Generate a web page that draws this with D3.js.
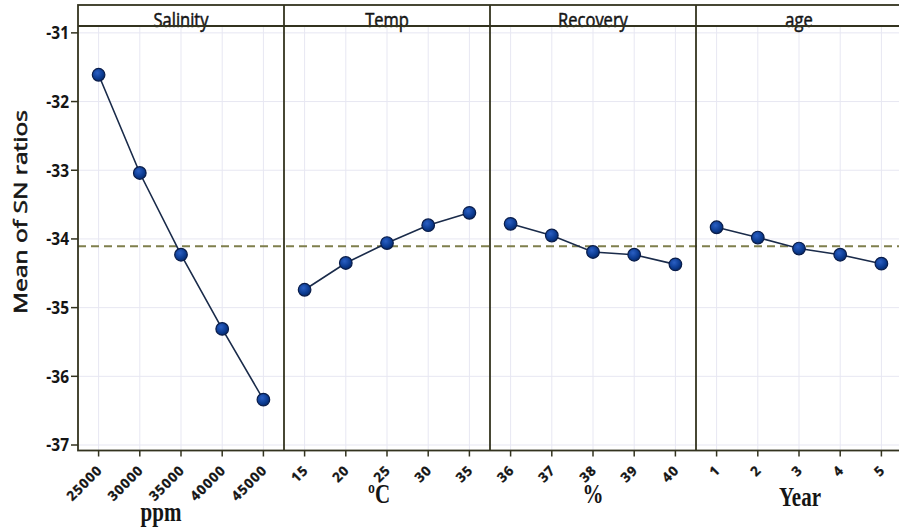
<!DOCTYPE html>
<html>
<head>
<meta charset="utf-8">
<script src="https://cdnjs.cloudflare.com/ajax/libs/d3/7.8.5/d3.min.js"></script>
<style>
  html, body { margin: 0; padding: 0; background: #fff; }
  svg { display: block; }
</style>
</head>
<body>
<svg id="chart" width="899" height="529"></svg>
<script>
// Main effects plot for SN ratios (panels share one y axis)
const factors = ["Salinity", "Temp", "Recovery", "age"];
const units = ["ppm", "ºC", "%", "Year"];

const salinityLevels = ["25000", "30000", "35000", "40000", "45000"];
const tempLevels = ["15", "20", "25", "30", "35"];
const recoveryLevels = ["36", "37", "38", "39", "40"];
const ageLevels = ["1", "2", "3", "4", "5"];

const salinitySN = [-31.61, -33.04, -34.23, -35.31, -36.34];
const tempSN = [-34.74, -34.35, -34.06, -33.80, -33.62];
const recoverySN = [-33.78, -33.95, -34.19, -34.23, -34.37];
const ageSN = [-33.83, -33.98, -34.14, -34.23, -34.36];

const yTicks = [-31, -32, -33, -34, -35, -36, -37];

const levels = [salinityLevels, tempLevels, recoveryLevels, ageLevels];
const values = [salinitySN, tempSN, recoverySN, ageSN];

// grand mean of the SN ratios (reference line)
const grandMean = d3.mean([].concat(...values));

const svg = d3.select("#chart");
const plotLeft = 78, plotRight = 902, stripTop = 5, plotTop = 26, plotBottom = 450.5;
const panelW = (plotRight - plotLeft) / factors.length;

const frameColor = "#33331f";
const gridColor = "#e7e7f2";
const textColor = "#151515";
const sans = "'Open Sans', 'Noto Sans', sans-serif";

const y = d3.scaleLinear().domain([-37.08, -30.90]).range([plotBottom, plotTop]);

const defs = svg.append("defs");
const grad = defs.append("radialGradient").attr("id", "dot")
  .attr("cx", "40%").attr("cy", "35%").attr("r", "65%");
grad.append("stop").attr("offset", "0%").attr("stop-color", "#2a5fc4");
grad.append("stop").attr("offset", "70%").attr("stop-color", "#0b3a8f");
grad.append("stop").attr("offset", "100%").attr("stop-color", "#072a6a");

// horizontal grid
svg.append("g").selectAll("line").data(yTicks).join("line")
  .attr("x1", plotLeft).attr("x2", plotRight)
  .attr("y1", d => y(d)).attr("y2", d => y(d))
  .attr("stroke", gridColor).attr("stroke-width", 1);

// y axis ticks + labels
const yAxis = svg.append("g");
yAxis.selectAll("line").data(yTicks).join("line")
  .attr("x1", plotLeft - 7).attr("x2", plotLeft)
  .attr("y1", d => y(d)).attr("y2", d => y(d))
  .attr("stroke", frameColor).attr("stroke-width", 1.5);
yAxis.selectAll("text").data(yTicks).join("text")
  .attr("transform", d => `translate(${plotLeft - 9},${y(d)}) scale(1,1.15)`)
  .attr("dy", "0.36em")
  .attr("text-anchor", "end")
  .attr("font-family", sans).attr("font-size", 15.5).attr("font-weight", 700)
  .attr("fill", textColor)
  .text(d => d);

svg.append("text")
  .attr("transform", `translate(27,212) rotate(-90) scale(1.33,1)`)
  .attr("text-anchor", "middle")
  .attr("font-family", sans).attr("font-size", 18.5)
  .attr("fill", textColor).attr("stroke", textColor).attr("stroke-width", 0.6)
  .text("Mean of SN ratios");

const panelX = i => {
  const x0 = plotLeft + i * panelW;
  return d3.scalePoint().domain(levels[i]).range([x0, x0 + panelW]).padding(0.5);
};

const unitOffsetX = [83, 95, 103, 104];
const unitY = [521, 503, 503, 506];

factors.forEach((f, i) => {
  const x0 = plotLeft + i * panelW, x1 = x0 + panelW;
  const x = panelX(i);
  const g = svg.append("g");

  // vertical grid
  g.selectAll("line.grid").data(levels[i]).join("line").attr("class", "grid")
    .attr("x1", d => x(d)).attr("x2", d => x(d))
    .attr("y1", plotTop).attr("y2", plotBottom)
    .attr("stroke", gridColor).attr("stroke-width", 1);

  // x ticks
  g.selectAll("line.tick").data(levels[i]).join("line").attr("class", "tick")
    .attr("x1", d => x(d)).attr("x2", d => x(d))
    .attr("y1", plotBottom).attr("y2", plotBottom + 6)
    .attr("stroke", frameColor).attr("stroke-width", 1.5);

  g.selectAll("text.tick").data(levels[i]).join("text").attr("class", "tick")
    .attr("transform", d => `translate(${x(d) + 4.5},${plotBottom + 20.5}) rotate(-45)`)
    .attr("text-anchor", "end")
    .attr("font-family", sans).attr("font-size", 13.5).attr("font-weight", 700)
    .attr("letter-spacing", 1)
    .attr("fill", textColor)
    .attr("stroke", textColor).attr("stroke-width", 0.3)
    .text(d => d);

  // strip title
  g.append("text")
    .attr("transform", `translate(${(x0 + x1) / 2},${plotTop + 1}) scale(1,1.2)`)
    .attr("text-anchor", "middle")
    .attr("font-family", sans).attr("font-size", 16.5)
    .attr("fill", textColor).attr("stroke", textColor).attr("stroke-width", 0.45)
    .text(f);

  // unit label
  g.append("text")
    .attr("transform", `translate(${x0 + unitOffsetX[i]},${unitY[i]}) scale(1,1.3)`)
    .attr("text-anchor", "middle")
    .attr("font-family", "'Liberation Serif', 'Times New Roman', serif")
    .attr("font-size", 21).attr("font-weight", 700)
    .attr("fill", textColor)
    .text(units[i]);
});

// grand mean reference line
svg.append("line")
  .attr("x1", plotLeft).attr("x2", plotRight)
  .attr("y1", y(grandMean)).attr("y2", y(grandMean))
  .attr("stroke", "#7f7f4c").attr("stroke-width", 2)
  .attr("stroke-dasharray", "8,5");

// lines and points
factors.forEach((f, i) => {
  const x = panelX(i);
  const pts = levels[i].map((l, k) => ({ level: l, value: values[i][k] }));
  const line = d3.line().x(d => x(d.level)).y(d => y(d.value));
  svg.append("path").datum(pts)
    .attr("d", line)
    .attr("fill", "none").attr("stroke", "#1a2b4a").attr("stroke-width", 1.6);
  svg.append("g").selectAll("circle").data(pts).join("circle")
    .attr("cx", d => x(d.level)).attr("cy", d => y(d.value))
    .attr("r", 6.3)
    .attr("fill", "url(#dot)")
    .attr("stroke", "#0a1d4a").attr("stroke-width", 1.2);
});

// panel frames and strips
const frame = svg.append("g").attr("fill", "none").attr("stroke", frameColor).attr("stroke-width", 1.8);
frame.append("rect").attr("x", plotLeft).attr("y", stripTop)
  .attr("width", plotRight - plotLeft).attr("height", plotBottom - stripTop);
frame.append("line").attr("x1", plotLeft).attr("x2", plotRight).attr("y1", plotTop).attr("y2", plotTop);
d3.range(1, factors.length).forEach(i => {
  frame.append("line")
    .attr("x1", plotLeft + i * panelW).attr("x2", plotLeft + i * panelW)
    .attr("y1", stripTop).attr("y2", plotBottom);
});
</script>
</body>
</html>
